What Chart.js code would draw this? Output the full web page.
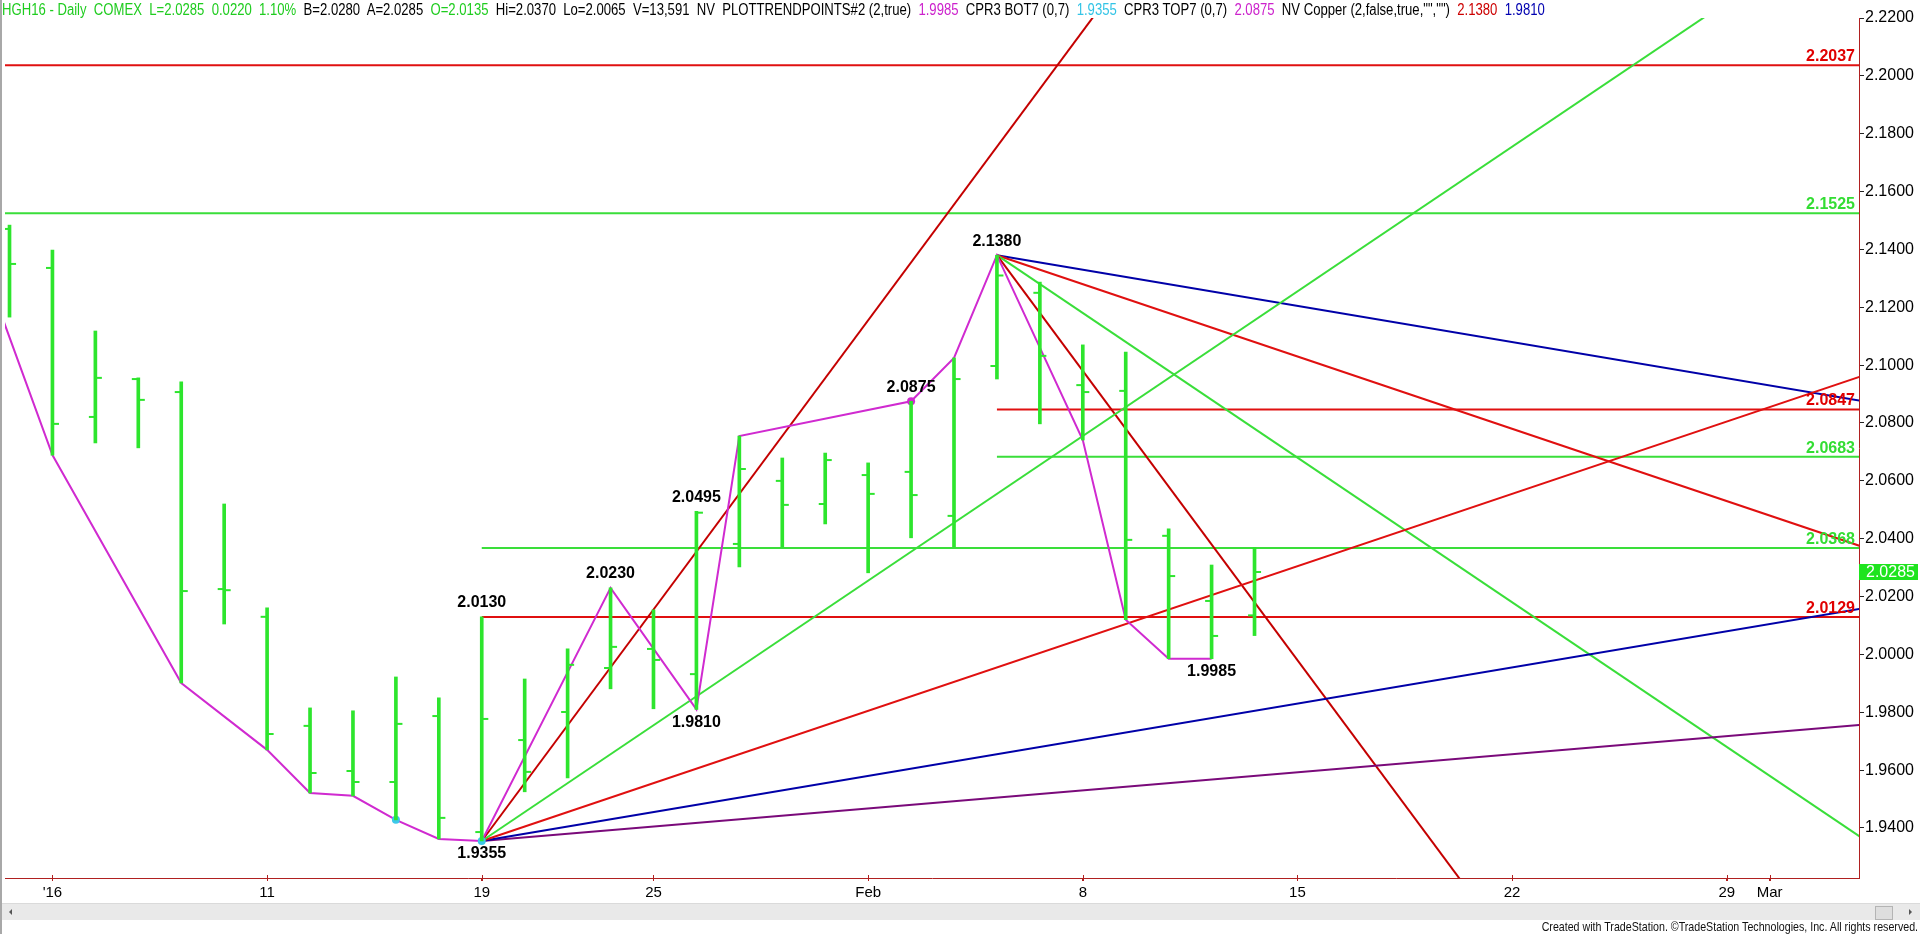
<!DOCTYPE html>
<html>
<head>
<meta charset="utf-8">
<script src="https://cdn.jsdelivr.net/npm/chart.js@4.4.0/dist/chart.umd.min.js"></script>
<style>
html,body{margin:0;padding:0;background:#fff;overflow:hidden;}
#wrap{position:relative;width:1920px;height:934px;overflow:hidden;}
#c{position:absolute;left:0;top:0;}
#hdr{position:absolute;left:2px;top:1px;font-family:"Liberation Sans",Arial,sans-serif;font-size:16px;white-space:pre;line-height:18px;color:#000;transform:scaleX(0.82);transform-origin:0 0;}
#hdr .g{color:#1fcc1f}
#hdr .m{color:#cc22cc}
#hdr .c{color:#33c4e6}
#hdr .r{color:#cc0000}
#hdr .b{color:#0000b0}
#lborder{position:absolute;left:0;top:0;width:2px;height:934px;background:#a8a8a8;}
#scroll{position:absolute;left:2px;top:903px;width:1918px;height:16px;background:#e9e9e9;border-top:1px solid #dadada;}
#thumb{position:absolute;left:1873px;top:2px;width:16px;height:12px;background:#dedede;border:1px solid #b4b4b4;}
#la{position:absolute;left:7px;top:5px;width:0;height:0;border-top:3px solid transparent;border-bottom:3px solid transparent;border-right:3px solid #555;}
#ra{position:absolute;left:1907px;top:5px;width:0;height:0;border-top:3px solid transparent;border-bottom:3px solid transparent;border-left:3px solid #555;}
#credit{position:absolute;right:2px;top:919px;font-family:"Liberation Sans",Arial,sans-serif;font-size:13px;line-height:15px;color:#111;white-space:pre;transform:scaleX(0.82);transform-origin:100% 0;}
</style>
</head>
<body>
<div id="wrap">
<canvas id="c" width="1920" height="934"></canvas>
<div id="lborder"></div>
<div id="hdr"><span class="g">HGH16 - Daily  COMEX  L=2.0285  0.0220  1.10%</span>  B=2.0280  A=2.0285  <span class="g">O=2.0135</span>  Hi=2.0370  Lo=2.0065  V=13,591  NV  PLOTTRENDPOINTS#2 (2,true)  <span class="m">1.9985</span>  CPR3 BOT7 (0,7)  <span class="c">1.9355</span>  CPR3 TOP7 (0,7)  <span class="m">2.0875</span>  NV Copper (2,false,true,"","")  <span class="r">2.1380</span>  <span class="b">1.9810</span></div>
<div id="scroll"><div id="la"></div><div id="thumb"></div><div id="ra"></div></div>
<div id="credit">Created with TradeStation. ©TradeStation Technologies, Inc. All rights reserved.</div>
</div>
<script>
// ---------- DATA ----------
const dates = [
 '2015-12-30','2015-12-31',
 '2016-01-04','2016-01-05','2016-01-06','2016-01-07','2016-01-08',
 '2016-01-11','2016-01-12','2016-01-13','2016-01-14','2016-01-15',
 '2016-01-19','2016-01-20','2016-01-21','2016-01-22',
 '2016-01-25','2016-01-26','2016-01-27','2016-01-28','2016-01-29',
 '2016-02-01','2016-02-02','2016-02-03','2016-02-04','2016-02-05',
 '2016-02-08','2016-02-09','2016-02-10','2016-02-11','2016-02-12',
 '2016-02-15','2016-02-16','2016-02-17','2016-02-18','2016-02-19',
 '2016-02-22','2016-02-23','2016-02-24','2016-02-25','2016-02-26',
 '2016-02-29','2016-03-01','2016-03-02','2016-03-03'
];

const barDates = [
 '2015-12-31','2016-01-04','2016-01-05','2016-01-06','2016-01-07','2016-01-08',
 '2016-01-11','2016-01-12','2016-01-13','2016-01-14','2016-01-15',
 '2016-01-19','2016-01-20','2016-01-21','2016-01-22',
 '2016-01-25','2016-01-26','2016-01-27','2016-01-28','2016-01-29',
 '2016-02-01','2016-02-02','2016-02-03','2016-02-04','2016-02-05',
 '2016-02-08','2016-02-09','2016-02-10','2016-02-11','2016-02-12'
];
const opens  = [2.1471,2.1336,2.0821,2.0952,2.0907,2.0226,2.0130,1.9753,1.9597,1.9559,1.9787,1.9386,1.9704,1.9801,1.9953,2.0019,1.9932,2.0382,2.0600,2.0520,2.0620,2.0631,2.0479,2.0997,2.1250,2.0931,2.0911,2.0410,2.0185,2.0135];
const highs  = [2.1484,2.1398,2.1118,2.0956,2.0942,2.0520,2.0161,1.9815,1.9805,1.9922,1.9850,2.0130,1.9915,2.0019,2.0230,2.0154,2.0495,2.0755,2.0679,2.0696,2.0662,2.0875,2.1025,2.1380,2.1287,2.1070,2.1045,2.0434,2.0309,2.0370];
const lows   = [2.1166,2.0689,2.0731,2.0714,1.9901,2.0105,1.9670,1.9521,1.9511,1.9428,1.9362,1.9355,1.9525,1.9573,1.9881,1.9812,1.9810,2.0302,2.0371,2.0451,2.0282,2.0403,2.0371,2.0952,2.0797,2.0741,2.0120,1.9985,1.9985,2.0065];
const closes = [2.1350,2.0797,2.0956,2.0880,2.0219,2.0222,1.9725,1.9590,1.9559,1.9760,1.9435,1.9777,1.9594,1.9964,2.0026,1.9981,2.0490,2.0641,2.0517,2.0672,2.0555,2.0551,2.0952,2.1310,2.1032,2.0907,2.0396,2.0271,2.0064,2.0285];

const zigzagDates  = ['2015-12-30','2016-01-04','2016-01-07','2016-01-11','2016-01-12','2016-01-13','2016-01-14','2016-01-15','2016-01-19','2016-01-22','2016-01-26','2016-01-27','2016-02-02','2016-02-03','2016-02-04','2016-02-08','2016-02-09','2016-02-10','2016-02-11'];
const zigzagValues = [2.1503,2.0689,1.9901,1.9670,1.9521,1.9511,1.9428,1.9362,1.9355,2.0230,1.9810,2.0755,2.0875,2.1025,2.1380,2.0741,2.0120,1.9985,1.9985];

const bottomDotDates  = ['2016-01-14','2016-01-19'];
const bottomDotValues = [1.9428,1.9355];
const topDotDates  = ['2016-02-02'];
const topDotValues = [2.0875];

const fanLowDate = '2016-01-19', fanLowValue = 1.9355;
const fanLowSlopes = [0.02,0.01,0.005,0.0025,0.00125];
const fanHighDate = '2016-02-04', fanHighValue = 2.1380;
const fanHighSlopes = [-0.02,-0.01,-0.005,-0.0025];

const levelValues     = [2.2037,2.1525,2.0847,2.0683,2.0368,2.0129];
const levelStartDates = ['2015-12-30','2015-12-30','2016-02-04','2016-02-04','2016-01-19','2016-01-19'];

const pivotDates  = ['2016-02-04','2016-02-02','2016-01-26','2016-01-22','2016-01-19','2016-01-26','2016-01-19','2016-02-11'];
const pivotValues = [2.1380,2.0875,2.0495,2.0230,2.0130,1.9810,1.9355,1.9985];
const pivotSides  = ['above','above','above','above','above','below','below','below'];

const lastPrice = 2.0285;

const yTicks = [1.94,1.96,1.98,2.00,2.02,2.04,2.06,2.08,2.10,2.12,2.14,2.16,2.18,2.20,2.22];
const xTickDates  = ['2016-01-04','2016-01-11','2016-01-19','2016-01-25','2016-02-01','2016-02-08','2016-02-15','2016-02-22','2016-02-29','2016-03-01'];
const xTickLabels = ["'16",'11','19','25','Feb','8','15','22','29','Mar'];

// ---------- STYLE ----------
const BAR_GREEN = '#2de52d';
const LINE_GREEN = '#3ade3a';
const DARK_RED = '#c40000';
const RED = '#e01010';
const BLUE = '#0000a8';
const PURPLE = '#7a0a7a';
const MAGENTA = '#d02ad0';
const CYAN = '#3cc8ea';
const AXIS_RED = '#b02020';
const fanLowColors  = [DARK_RED, LINE_GREEN, RED, BLUE, PURPLE];
const fanHighColors = [DARK_RED, LINE_GREEN, RED, BLUE];
const levelColors   = [RED, LINE_GREEN, RED, LINE_GREEN, LINE_GREEN, RED];
const levelLabelColors = ['#e00000','#33dd33','#e00000','#33dd33','#33dd33','#e00000'];

const X_MIN = 0.895, X_MAX = 44.08;
const Y_MIN = 1.9227, Y_MAX = 2.22;

const idx = d => dates.indexOf(d);

function makeTick(side){
  const c = document.createElement('canvas');
  c.width = 15; c.height = 6;
  const g = c.getContext('2d');
  g.fillStyle = BAR_GREEN;
  g.fillRect(side < 0 ? 1 : 7, 2, 7, 2);
  return c;
}

const datasets = [];
datasets.push({type:'scatter', data: barDates.map((d,i)=>({x:idx(d), y:opens[i]})), pointStyle: makeTick(-1), pointRadius: 3, order: 0});
datasets.push({type:'scatter', data: barDates.map((d,i)=>({x:idx(d), y:closes[i]})), pointStyle: makeTick(1), pointRadius: 3, order: 0});
datasets.push({type:'bar', data: barDates.map((d,i)=>({x:idx(d), y:[lows[i], highs[i]]})), backgroundColor: BAR_GREEN, borderWidth: 0, barThickness: 3, grouped:false, order: 1});
datasets.push({type:'scatter', data: bottomDotDates.map((d,i)=>({x:idx(d), y:bottomDotValues[i]})), pointRadius: 4, backgroundColor: CYAN, borderWidth: 0, order: 2});
datasets.push({type:'scatter', data: topDotDates.map((d,i)=>({x:idx(d), y:topDotValues[i]})), pointRadius: 4, backgroundColor: MAGENTA, borderWidth: 0, order: 2});
datasets.push({type:'line', data: zigzagDates.map((d,i)=>({x:idx(d), y:zigzagValues[i]})), borderColor: MAGENTA, borderWidth: 2, pointRadius: 0, tension: 0, fill:false, order: 3});
const fanEnd = X_MAX + 2;
fanLowSlopes.forEach((s,i)=>{
  const x0 = idx(fanLowDate);
  datasets.push({type:'line', data:[{x:x0, y:fanLowValue},{x:fanEnd, y:fanLowValue + s*(fanEnd-x0)}], borderColor: fanLowColors[i], borderWidth: 2, pointRadius: 0, tension:0, fill:false, order: 4});
});
fanHighSlopes.forEach((s,i)=>{
  const x0 = idx(fanHighDate);
  datasets.push({type:'line', data:[{x:x0, y:fanHighValue},{x:fanEnd, y:fanHighValue + s*(fanEnd-x0)}], borderColor: fanHighColors[i], borderWidth: 2, pointRadius: 0, tension:0, fill:false, order: 4});
});
levelValues.forEach((v,i)=>{
  datasets.push({type:'line', data:[{x:idx(levelStartDates[i]), y:v},{x:X_MAX, y:v}], borderColor: levelColors[i], borderWidth: 2, pointRadius: 0, tension:0, fill:false, order: 5});
});

const annot = {
  id: 'annot',
  afterDraw(chart){
    const {ctx, chartArea, scales} = chart;
    const x = scales.x, y = scales.y;
    ctx.save();
    // x tick marks crossing the axis line
    ctx.strokeStyle = AXIS_RED; ctx.lineWidth = 1;
    xTickDates.forEach(d => {
      const px = Math.round(x.getPixelForValue(idx(d))) + 0.5;
      ctx.beginPath(); ctx.moveTo(px, chartArea.bottom - 3); ctx.lineTo(px, chartArea.bottom + 3); ctx.stroke();
    });
    ctx.font = 'bold 16px "Liberation Sans", Arial, sans-serif';
    ctx.textAlign = 'center';
    ctx.textBaseline = 'middle';
    ctx.fillStyle = '#000';
    pivotDates.forEach((d,i)=>{
      const px = x.getPixelForValue(idx(d));
      const py = y.getPixelForValue(pivotValues[i]) + (pivotSides[i] === 'above' ? -14 : 13);
      ctx.fillText(pivotValues[i].toFixed(4), px, py);
    });
    ctx.textAlign = 'right';
    ctx.textBaseline = 'alphabetic';
    levelValues.forEach((v,i)=>{
      ctx.fillStyle = levelLabelColors[i];
      ctx.fillText(v.toFixed(4), chartArea.right - 4, y.getPixelForValue(v) - 4);
    });
    const py = Math.round(y.getPixelForValue(lastPrice));
    ctx.fillStyle = '#1ee41e';
    ctx.fillRect(chartArea.right, py - 8, 59, 16);
    ctx.fillStyle = '#fff';
    ctx.font = '16px "Liberation Sans", Arial, sans-serif';
    ctx.textAlign = 'left';
    ctx.textBaseline = 'middle';
    ctx.fillText(lastPrice.toFixed(4), chartArea.right + 7, py + 1);
    ctx.restore();
  }
};

new Chart(document.getElementById('c'), {
  type: 'line',
  data: { datasets },
  options: {
    responsive: false,
    animation: false,
    devicePixelRatio: 1,
    events: [],
    layout: { padding: { top: 18, left: 2, right: 0, bottom: 0 } },
    plugins: { legend: {display:false}, tooltip: {enabled:false} },
    scales: {
      x: {
        type: 'linear', position: 'bottom', min: X_MIN, max: X_MAX, offset: false,
        afterBuildTicks: s => { s.ticks = xTickDates.map(d => ({value: idx(d)})); },
        afterFit: s => { s.height = 56; },
        ticks: {
          autoSkip: false, maxRotation: 0, minRotation: 0, padding: 3, color: '#000',
          font: { family: '"Liberation Sans", Arial, sans-serif', size: 15 },
          callback: v => { const k = xTickDates.findIndex(d => idx(d) === v); return k >= 0 ? xTickLabels[k] : ''; }
        },
        grid: { offset: false, drawOnChartArea: false, drawTicks: true, tickLength: 3, tickColor: AXIS_RED, tickWidth: 1 },
        border: { display: true, color: AXIS_RED, width: 1 }
      },
      y: {
        type: 'linear', position: 'right', min: Y_MIN, max: Y_MAX,
        afterBuildTicks: s => { s.ticks = yTicks.map(v => ({value: v})); },
        afterFit: s => { s.width = 61; },
        ticks: {
          padding: 1, color: '#000',
          font: { family: '"Liberation Sans", Arial, sans-serif', size: 16 },
          callback: v => Number(v).toFixed(4)
        },
        grid: { offset: false, drawOnChartArea: false, drawTicks: true, tickLength: 5, tickColor: '#222', tickWidth: 1 },
        border: { display: true, color: AXIS_RED, width: 1 }
      }
    }
  },
  plugins: [annot]
});
</script>
</body>
</html>
